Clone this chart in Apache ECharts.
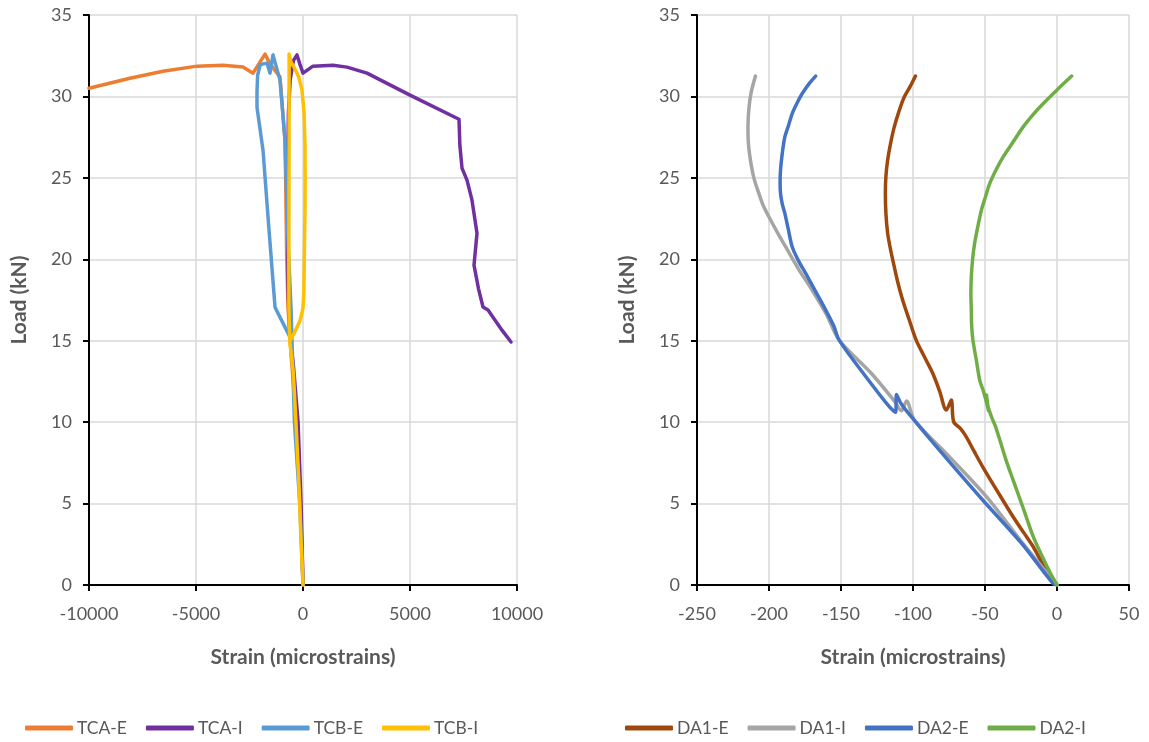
<!DOCTYPE html>
<html><head><meta charset="utf-8">
<script src="https://cdn.jsdelivr.net/npm/echarts@6/dist/echarts.min.js"></script>
<style>html,body{margin:0;padding:0;background:#fff}#c{width:1149px;height:742px}</style>
</head><body><div id="c"></div>
<script>
// ---- Left chart data: [strain (microstrains), load (kN)] ----
const tcaE = [[0,0],[-40,2],[-120,5],[-300,10],[-550,14],[-700,17],[-760,20],[-800,24],[-841,27.3],[-1075,31.2],[-1542,32.0],[-1776,32.6],[-2336,31.43],[-2804,31.8],[-3738,31.92],[-4953,31.86],[-6542,31.55],[-8084,31.12],[-10000,30.5]];
const tcaI = [[0,0],[-90,5],[-230,10],[-450,13.5],[-620,15.5],[-690,18],[-710,22],[-710,26],[-680,29],[-600,31],[-450,32.2],[-280,32.55],[-150,32.0],[0,31.43],[93,31.49],[467,31.86],[1402,31.92],[2056,31.8],[2991,31.43],[5000,30.08],[7290,28.6],[7330,27.0],[7430,25.6],[7664,24.86],[7897,23.63],[8131,21.6],[7991,19.64],[8200,18.2],[8411,17.07],[8645,16.88],[9299,15.65],[9720,14.92]];
const tcbE = [[0,0],[-150,5],[-400,10],[-514,15],[-560,17],[-701,21.2],[-841,27.3],[-1075,31.0],[-1402,32.55],[-1542,31.43],[-1682,32.04],[-1870,32.0],[-2009,31.92],[-2120,31.3],[-2150,30.3],[-2150,29.34],[-1869,26.7],[-1600,22.0],[-1308,17.07],[-1250,16.9],[-607,15.22]];
const tcbI = [[0,0],[-100,3],[-200,6.5],[-330,10],[-450,13],[-620,15],[-660,17],[-660,20],[-655,25],[-650,30],[-650,32.6],[-560,32.1],[-420,31.8],[-200,31.2],[-50,30.4],[50,29],[93,27],[100,25],[93,23],[60,20],[40,18],[0,17],[-50,16.7],[-150,16.2],[-400,15.5],[-600,15.0]];
// ---- Right chart data ----
const da1E = [[0,0],[-10,1.3],[-16.5,2.35],[-23,3.2],[-30.5,4.19],[-41,5.7],[-51.6,7.26],[-57.5,8.2],[-63,9.1],[-67,9.6],[-71.8,10.03],[-73.4,11.36],[-76.9,10.74],[-81.5,11.9],[-86.3,13.0],[-92,14.0],[-97.8,15.04],[-102.7,16.3],[-107.2,17.5],[-110.3,18.5],[-113,19.54],[-115.6,20.6],[-117.6,21.59],[-118.8,22.8],[-119.2,24.05],[-118.8,25.1],[-117.6,26.09],[-115.6,27.1],[-113,28.13],[-109.7,29.1],[-106,29.98],[-102,30.6],[-98.3,31.25]];
const da1I = [[0,0],[-25,2.7],[-49,5.42],[-75,7.9],[-99,10.13],[-104.5,11.3],[-108,10.7],[-113,11.3],[-129,13.0],[-151.3,15.04],[-160,16.6],[-170,18.1],[-179.5,19.4],[-188.5,20.77],[-194.5,21.7],[-200.1,22.61],[-204,23.3],[-207.1,24.06],[-210.5,25.0],[-212.9,26.09],[-214.3,27.1],[-214.6,28.13],[-214,29.2],[-212.5,30.2],[-209.4,31.25]];
const da2E = [[0,0],[-2.8,0.1],[-25,2.6],[-51.6,5.22],[-76,7.7],[-100.4,10.25],[-108,11.1],[-111.5,11.7],[-112,10.6],[-116,10.9],[-132.7,12.79],[-151.3,15.04],[-155,15.9],[-160.6,16.88],[-167.5,18.0],[-174.5,19.13],[-179.5,19.9],[-183.9,20.77],[-186.5,21.8],[-189,22.82],[-190.8,23.4],[-192,24.05],[-192.3,24.7],[-192,25.48],[-190.8,26.5],[-189,27.52],[-186.5,28.2],[-183.9,28.95],[-180.5,29.6],[-176.9,30.18],[-172,30.8],[-167.6,31.25]];
const da2I = [[0,0],[-5,0.8],[-10,1.7],[-16.5,2.97],[-23,4.6],[-30.5,6.45],[-35.5,7.7],[-39.7,8.9],[-43,9.8],[-45.5,10.33],[-48,11.0],[-49,11.66],[-47.5,10.7],[-49.8,11.5],[-51.5,12.0],[-53.7,12.58],[-56,13.8],[-58.4,15.04],[-59.3,16],[-59.5,16.88],[-59.8,17.9],[-59.5,18.93],[-58.6,20],[-57.2,20.98],[-55,22],[-52.5,23.02],[-49.8,23.8],[-46.7,24.66],[-42.3,25.5],[-37.4,26.29],[-30.5,27.2],[-23.5,28.13],[-16.5,28.9],[-9.5,29.57],[0,30.4],[10.2,31.25]];

const leftNames = ['TCA-E','TCA-I','TCB-E','TCB-I'];
const rightNames = ['DA1-E','DA1-I','DA2-E','DA2-I'];
const leftColors = ['#ED7D31','#7030A0','#5B9BD5','#FFC000'];
const rightColors = ['#9E480E','#A5A5A5','#4472C4','#70AD47'];

const FONT = 'Lato';
const txt = '#595959';
function xAx(idx, min, max, interval){
  return {type:'value', gridIndex:idx, min, max, interval,
    name:'Strain (microstrains)', nameLocation:'middle', nameGap:62,
    nameTextStyle:{fontFamily:FONT, fontSize:21, fontWeight:'bold', color:txt},
    axisLine:{onZero:false, lineStyle:{color:'#000', width:2}},
    axisTick:{show:true, length:6, lineStyle:{color:'#000', width:2}},
    axisLabel:{fontFamily:FONT, fontSize:18, color:txt, margin:20, formatter:v=>String(v)},
    splitLine:{show:true, lineStyle:{color:'#D9D9D9', width:1.5}}};
}
function yAx(idx){
  return {type:'value', gridIndex:idx, min:0, max:35, interval:5,
    name:'Load (kN)', nameLocation:'middle', nameGap:59,
    nameTextStyle:{fontFamily:FONT, fontSize:21, fontWeight:'bold', color:txt},
    axisLine:{onZero:false, lineStyle:{color:'#000', width:2}},
    axisTick:{show:true, length:6, lineStyle:{color:'#000', width:2}},
    axisLabel:{fontFamily:FONT, fontSize:18, color:txt, margin:17},
    splitLine:{show:true, lineStyle:{color:'#D9D9D9', width:1.5}}};
}
const leftData = [tcaE, tcaI, tcbE, tcbI];
const rightData = [da1E, da1I, da2E, da2I];
const series = [];
leftData.forEach((d,i)=>series.push({name:leftNames[i], type:'line', xAxisIndex:0, yAxisIndex:0, data:d, showSymbol:false, smooth:false, lineStyle:{width:3.5, color:leftColors[i], cap:'round', join:'round'}, itemStyle:{color:leftColors[i]}}));
rightData.forEach((d,i)=>series.push({name:rightNames[i], type:'line', xAxisIndex:1, yAxisIndex:1, data:d, showSymbol:false, smooth:0.3, lineStyle:{width:3.5, color:rightColors[i], cap:'round', join:'round'}, itemStyle:{color:rightColors[i]}}));

const legendBase = {orient:'horizontal', top:714, itemWidth:48, itemHeight:5, icon:'roundRect', itemGap:19,
  textStyle:{fontFamily:FONT, fontSize:17.5, color:txt, padding:[0,0,0,-1]}};
const chart = echarts.init(document.getElementById('c'), null, {renderer:'canvas'});
chart.setOption({
  backgroundColor:'#fff',
  animation:false,
  grid:[{left:89, top:15, width:428, height:570},{left:697, top:15, width:432, height:570}],
  xAxis:[xAx(0,-10000,10000,5000), xAx(1,-250,50,50)],
  yAxis:[yAx(0), yAx(1)],
  legend:[Object.assign({}, legendBase, {left:20, data:leftNames}), Object.assign({}, legendBase, {left:620, data:rightNames})],
  series
});
</script></body></html>
